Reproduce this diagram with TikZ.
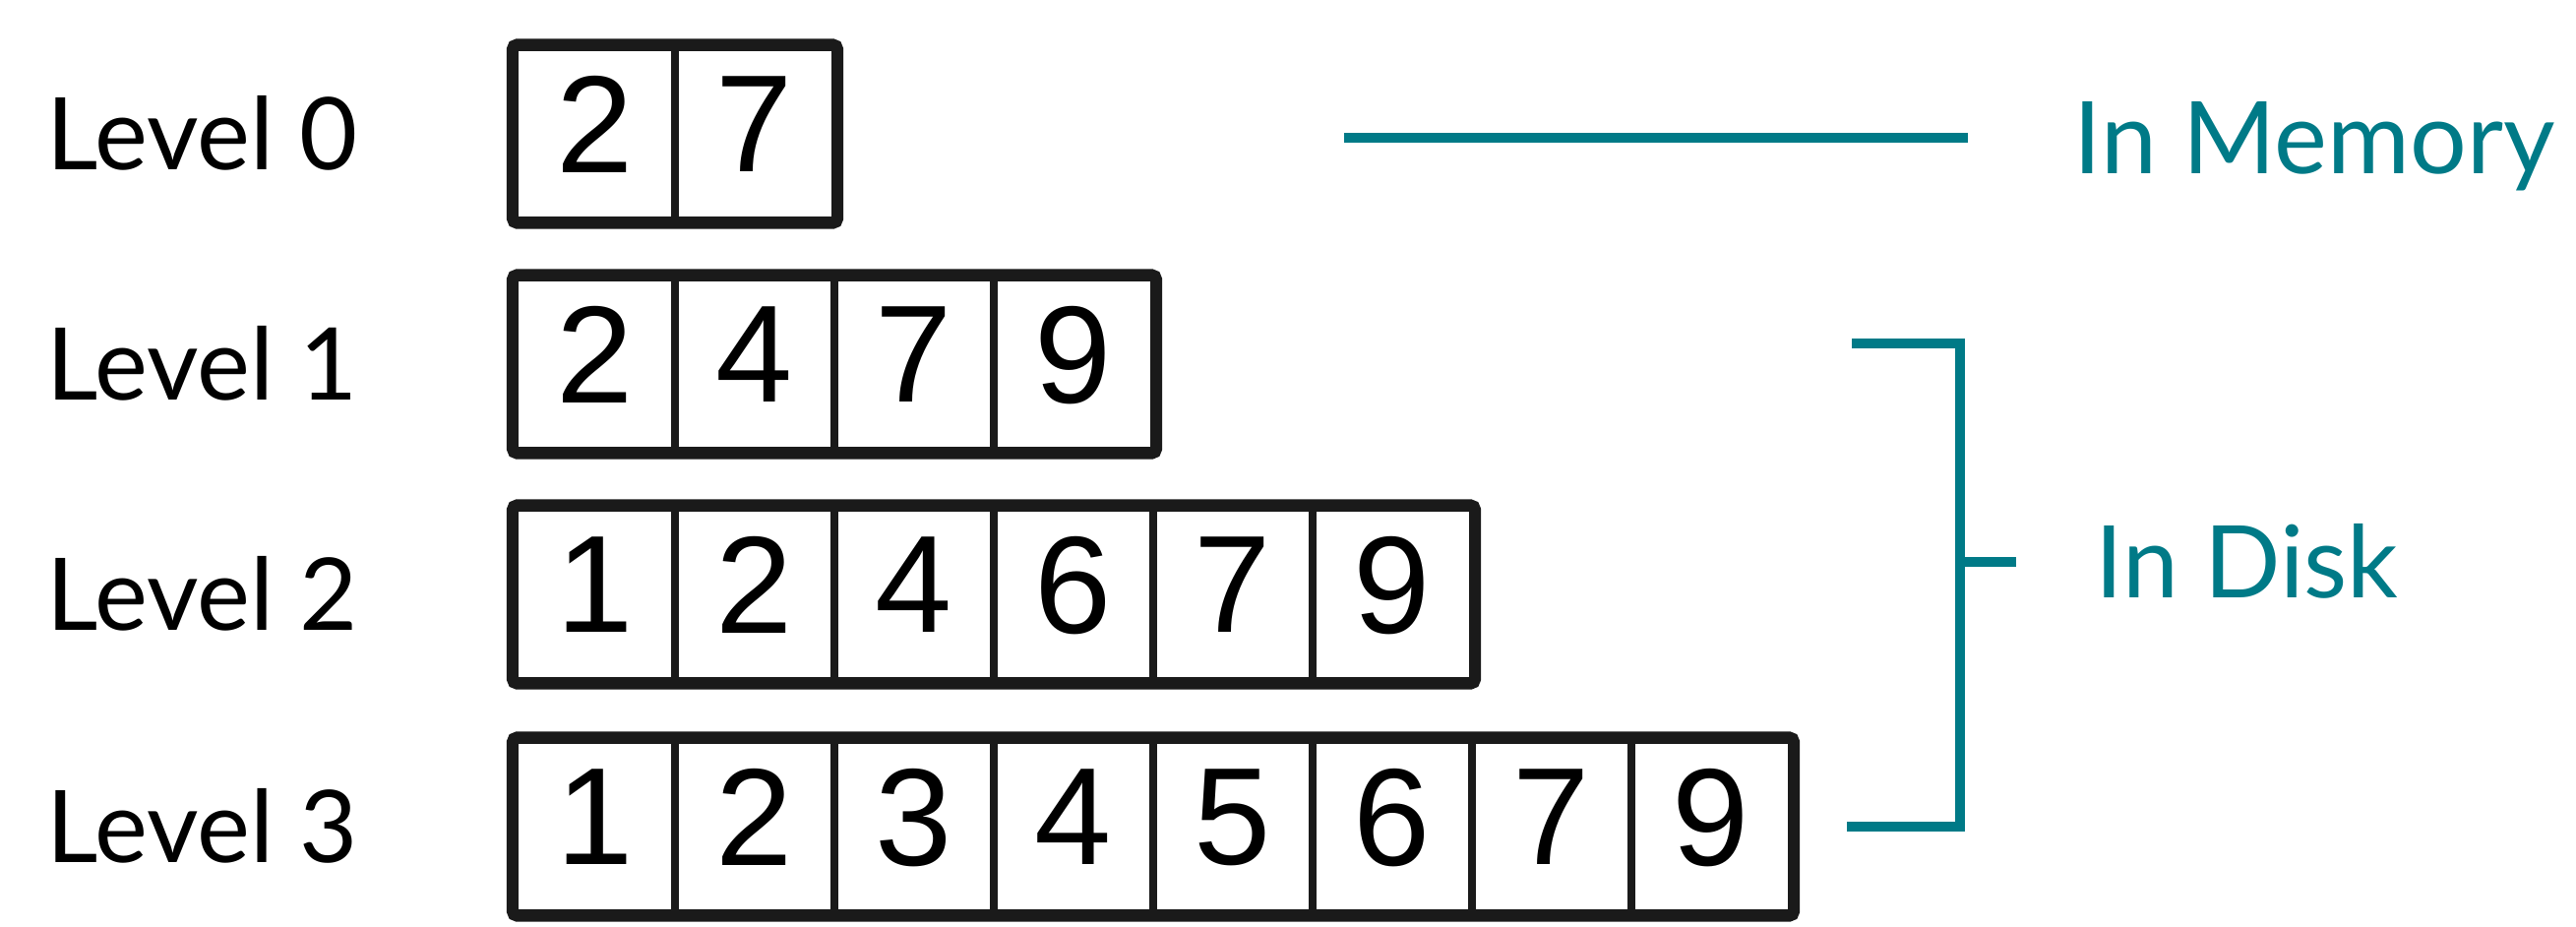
\documentclass[tikz,border=0pt]{standalone}
\usepackage{fontspec}
\usepackage{tikz}
\usetikzlibrary{positioning}
\newfontfamily\labelfont{Lato}
\newfontfamily\digitfont{Liberation Sans}
\definecolor{DiskTeal}{HTML}{007A87}
\definecolor{CellInk}{HTML}{1A1A1A}

\tikzset{
  cell/.style={draw=CellInk, line width=2pt, minimum width=1.62cm, minimum height=1.75cm, inner sep=0pt, text depth=0.2cm, font=\digitfont\fontsize{40}{40}\selectfont},
  levellabel/.style={anchor=west, inner sep=0pt, text height=0.73cm, text depth=0pt, font=\labelfont\fontsize{29}{29}\selectfont},
  tierlabel/.style={inner sep=0pt, text height=0.73cm, text depth=0pt, text=DiskTeal, font=\labelfont\fontsize{29}{29}\selectfont},
  tierline/.style={draw=DiskTeal, line width=2.7pt}
}

\begin{document}
\begin{tikzpicture}[x=0.01cm, y=-0.01cm]
            \useasboundingbox (0,0) rectangle (2618,941);
            \foreach \lev/\row/\n/\digits in {0/136/2/{2,7}, 1/370/4/{2,4,7,9}, 2/604/6/{1,2,4,6,7,9}, 3/840/8/{1,2,3,4,5,6,7,9}}{
                \node[levellabel] (level\lev) at (47,\row) {Level \lev};
                \foreach \d [count=\i] in \digits
                    \node[cell] (c\lev-\i) at ({605+162*(\i-1)},\row) {\d};
                \draw[draw=CellInk, line width=3.2pt, rounded corners=1.5pt] (c\lev-1.north west) rectangle (c\lev-\n.south east);
            }
            \coordinate (memstart) at (1366,140);
            \coordinate (memend) at (2000,140);
            \draw[tierline] (memstart) -- (memend);
            \node[tierlabel, right=1.07cm of memend] (memory) {In Memory};
            \coordinate (disktop) at (1882,349);
            \coordinate (spinetop) at (1992,349);
            \coordinate (spinebot) at (1992,840);
            \coordinate (diskbot) at (1877,840);
            \coordinate (tickstart) at (1992,571);
            \coordinate (tickend) at (2049,571);
            \draw[tierline] (disktop) -- (spinetop) -- (spinebot) -- (diskbot);
            \draw[tierline] (tickstart) -- (tickend);
            \node[tierlabel, right=0.8cm of tickend] (disk) {In Disk};
        \end{tikzpicture}
\end{document}
